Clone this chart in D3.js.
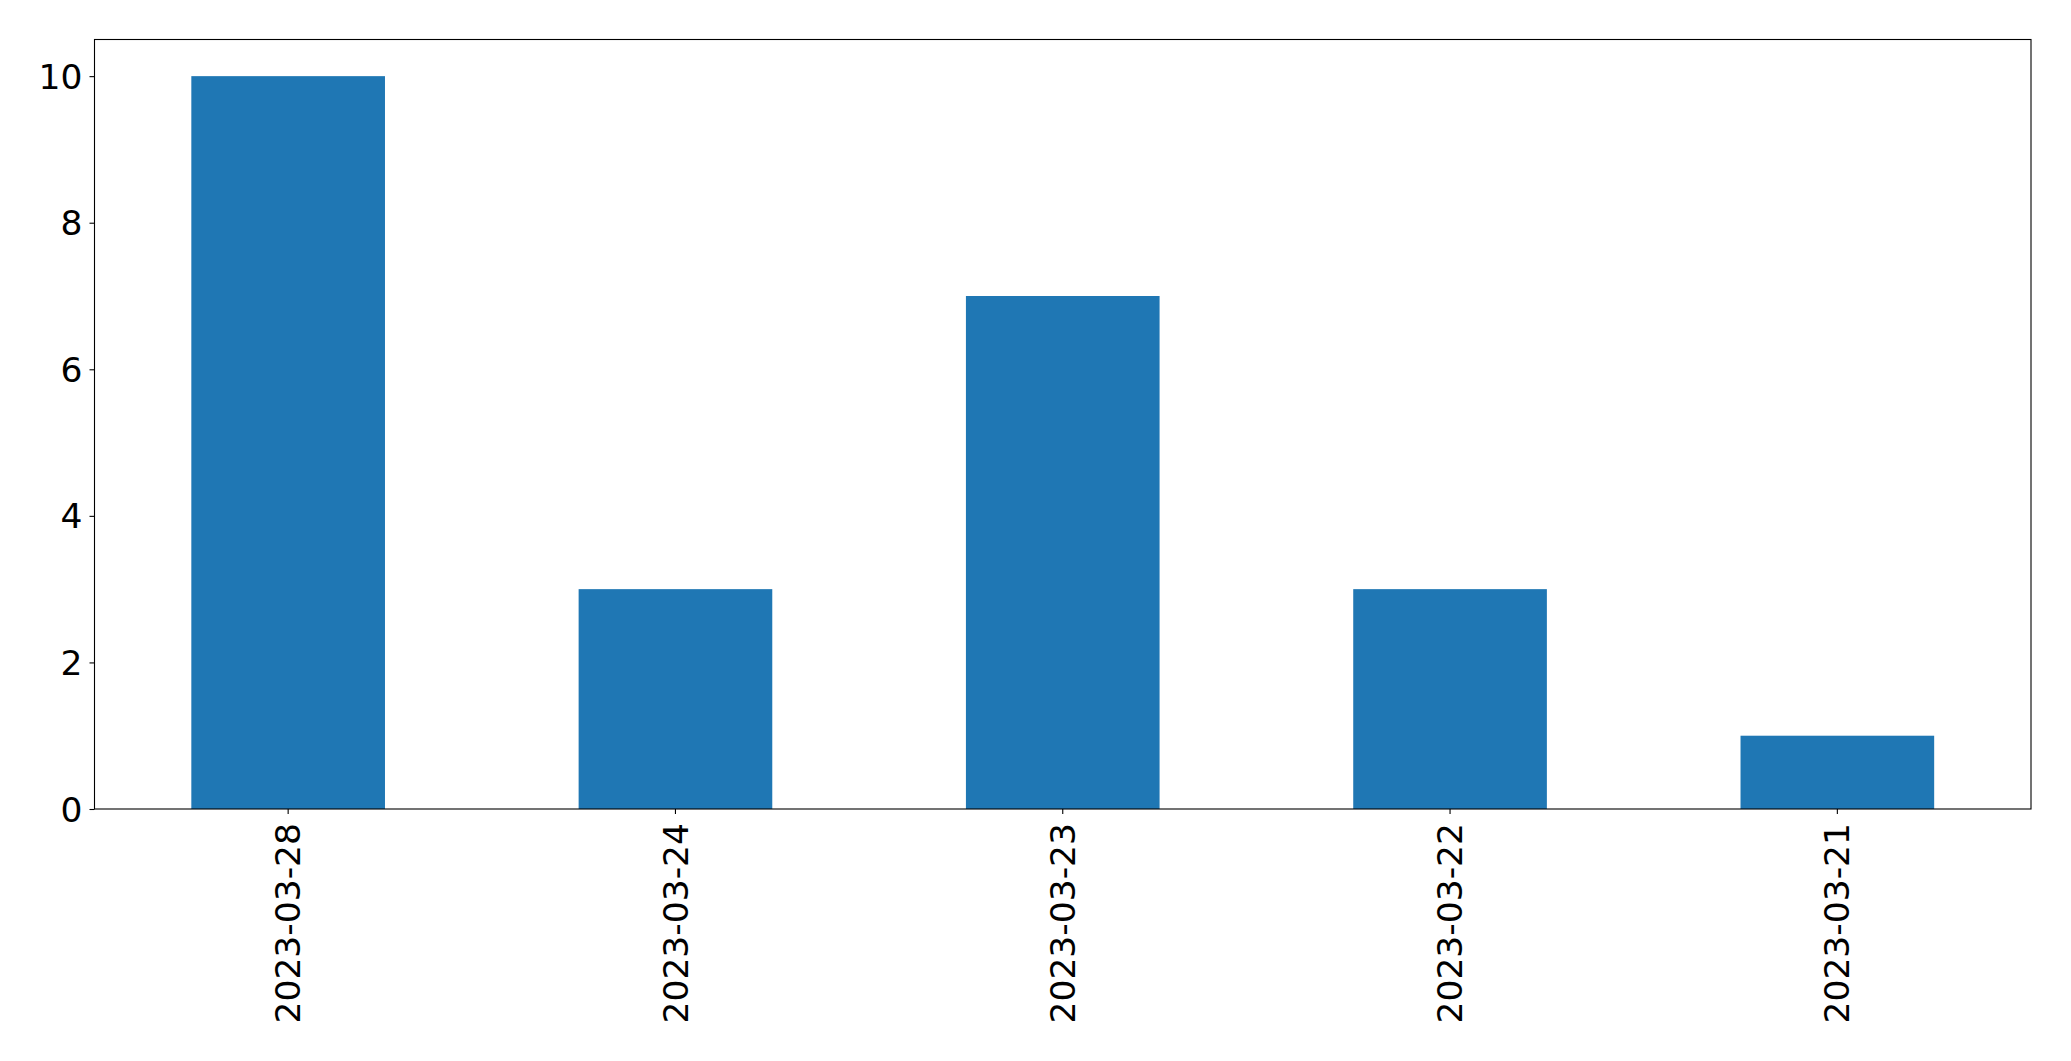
<!DOCTYPE html>
<html>
<head>
<meta charset="utf-8">
<script src="https://cdn.jsdelivr.net/npm/d3@7"></script>
<style>
  body { margin: 0; background: #fff; }
  svg text { font-family: "DejaVu Sans", sans-serif; fill: #000; }
</style>
</head>
<body>
<div id="chart"></div>
<script>
// data
const dates = ["2023-03-28", "2023-03-24", "2023-03-23", "2023-03-22", "2023-03-21"];
const counts = [10, 3, 7, 3, 1];
const yTicks = [0, 2, 4, 6, 8, 10];

const W = 2071, H = 1061;
const margin = { top: 39.5, right: 40, bottom: 252, left: 94.5 },
  width = W - margin.left - margin.right,
  height = H - margin.top - margin.bottom;

const svg = d3
  .select("#chart")
  .append("svg")
  .attr("width", W)
  .attr("height", H)
  .append("g")
  .attr("transform", `translate(${margin.left},${margin.top})`);

// x: one band per date, bar takes half of the band
const x = d3.scaleBand().domain(dates).range([0, width]).paddingInner(0.5).paddingOuter(0.25);

const y = d3.scaleLinear().domain([0, 10.5]).range([height, 0]);

// bars
svg
  .selectAll("rect.bar")
  .data(dates)
  .join("rect")
  .attr("class", "bar")
  .attr("x", (d) => x(d))
  .attr("width", x.bandwidth())
  .attr("y", (d, i) => y(counts[i]))
  .attr("height", (d, i) => height - y(counts[i]))
  .attr("fill", "#1f77b4");

// y axis
const yAxis = svg
  .append("g")
  .call(d3.axisLeft(y).tickValues(yTicks).tickSize(5).tickPadding(7).tickFormat(d3.format("d")));
yAxis.select(".domain").remove();
yAxis.selectAll("line").attr("stroke", "#000").attr("stroke-width", 1.1);
yAxis.selectAll("text").style("font-size", "34.5px").attr("dy", "0.35em");

// x axis
const xAxis = svg
  .append("g")
  .attr("transform", `translate(0,${height})`)
  .call(d3.axisBottom(x).tickSize(5).tickPadding(0));
xAxis.select(".domain").remove();
xAxis.selectAll("line").attr("stroke", "#000").attr("stroke-width", 1.1);
xAxis
  .selectAll("text")
  .style("font-size", "34.5px")
  .attr("text-anchor", "end")
  .attr("dy", "0.35em")
  .attr("transform", "translate(0,14) rotate(-90)")
  .attr("x", 0)
  .attr("y", 0);

// frame
svg
  .append("rect")
  .attr("width", width)
  .attr("height", height)
  .attr("fill", "none")
  .attr("stroke", "#000")
  .attr("stroke-width", 1.1);
</script>
</body>
</html>
